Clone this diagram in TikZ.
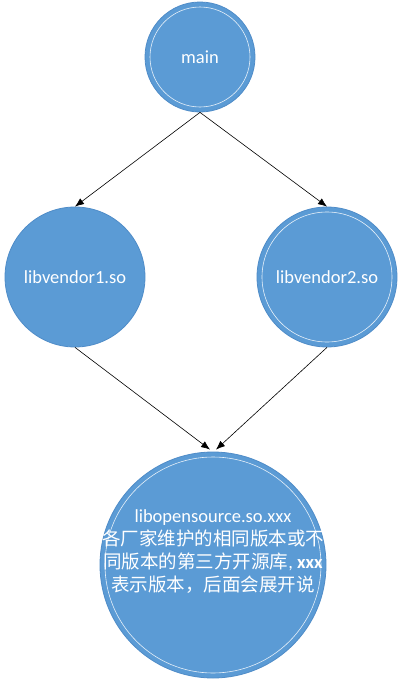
\documentclass[tikz,border=0pt]{standalone}
\usepackage{fontspec}
\setmainfont{Carlito}
\newfontfamily\cjk{Noto Sans CJK SC}
\usepackage{tikz}
\usetikzlibrary{arrows.meta}

\definecolor{bubbleblue}{HTML}{5B9BD5}
\definecolor{bubbleedge}{HTML}{4F8CC8}

\tikzset{
  bubble/.style={circle, fill=bubbleblue, draw=bubbleedge, line width=0.8bp,
    inner sep=0pt, text=white, align=center,
    font=\fontsize{18.5bp}{23bp}\selectfont},
  bubbletext/.style={text=white, align=center, inner sep=0pt,
    font=\fontsize{18.5bp}{23bp}\selectfont},
  ring/.style={draw=white, line width=0.6bp, opacity=0.85},
  link/.style={-{Latex[length=9bp,width=7bp]}, line width=0.6bp},
}

\begin{document}
\begin{tikzpicture}
\useasboundingbox[fill=white] (0,0) rectangle (402bp,-687bp);

\node[bubble, minimum size=110bp] (main) at (200bp,-57bp) {main};
\node[bubble, minimum size=140bp] (vendorA) at (75bp,-277bp) {libvendor1.so};
\node[bubble, minimum size=140bp] (vendorB) at (327bp,-277bp) {libvendor2.so};
\node[bubble, minimum size=226bp] (opensource) at (213bp,-565bp) {};

% inner rings
\draw[ring] (main.center) circle[radius=50bp];
\draw[ring] (vendorB.center) circle[radius=65bp];
\draw[ring] (opensource.center) circle[radius=108bp];

\node[bubbletext] (opensourcetext) at ([yshift=13bp]opensource.center)
  {libopensource.so.xxx\\
   {\cjk 各厂家维护的相同版本或不}\\
   {\cjk 同版本的第三方开源库}, \textbf{xxx}\\
   {\cjk 表示版本，后面会展开说}};

\draw[link] (main.south) -- (vendorA.north);
\draw[link] (main.south) -- (vendorB.north);
\draw[link] (vendorA.south) -- ([xshift=-3bp,yshift=2bp]opensource.north);
\draw[link] (vendorB.south) -- ([xshift=3bp,yshift=2bp]opensource.north);
\end{tikzpicture}
\end{document}
